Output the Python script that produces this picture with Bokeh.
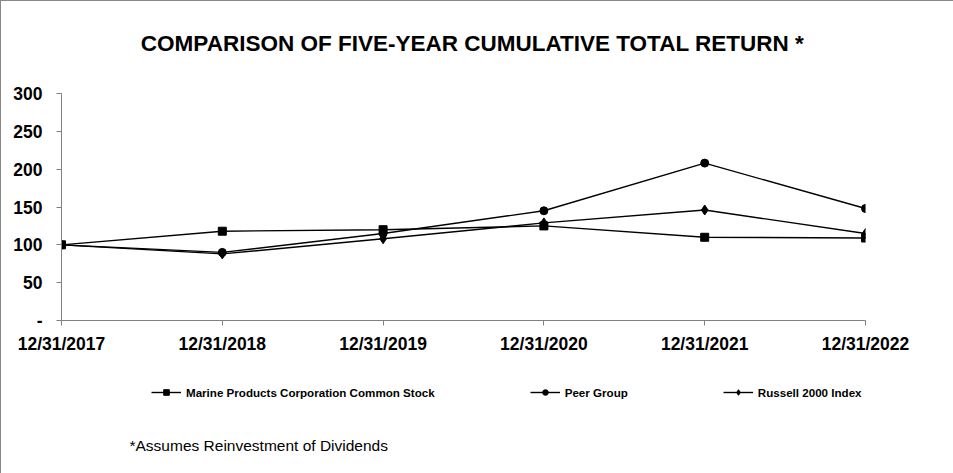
from bokeh.plotting import figure
from bokeh.models import Range1d, FixedTicker, Label, Legend, LegendItem
from bokeh.layouts import column
from bokeh.embed import file_html
from bokeh.resources import INLINE

dates = ["12/31/2017", "12/31/2018", "12/31/2019", "12/31/2020", "12/31/2021", "12/31/2022"]
marine = [100, 118, 120, 125, 110, 109]
peer = [100, 90, 115, 145, 208, 148]
russell = [100, 88, 108, 129, 146, 115]
y_ticks = [0, 50, 100, 150, 200, 250, 300]
y_tick_labels = ["-", "50", "100", "150", "200", "250", "300"]
series_names = ["Marine Products Corporation Common Stock", "Peer Group", "Russell 2000 Index"]
title_text = "COMPARISON OF FIVE-YEAR CUMULATIVE TOTAL RETURN *"
note_text = "*Assumes Reinvestment of Dividends"

FONT = "Liberation Sans"
W, H0, H1, H2 = 952, 70, 285, 117

def strip(h):
    f = figure(width=W, height=h, output_backend="svg", toolbar_location=None,
               x_range=Range1d(-2, -1), y_range=Range1d(-2, -1),
               x_axis_location=None, y_axis_location=None)
    f.min_border_top = 0
    f.min_border_bottom = 0
    f.min_border_left = 60
    f.min_border_right = W - 864
    f.outline_line_color = None
    f.grid.visible = False
    return f

# Title strip
p0 = strip(H0)
p0.add_layout(Label(x=411, y=28, x_units="screen", y_units="screen", text=title_text,
                    text_font=FONT, text_font_style="bold", text_font_size="22.5px",
                    text_align="center", text_baseline="middle", text_color="black"))

# Main chart
p1 = figure(width=W, height=H1, output_backend="svg", toolbar_location=None,
            x_range=Range1d(0, 5), y_range=Range1d(0, 300))
p1.min_border_left = 60
p1.min_border_right = W - 864
p1.min_border_top = 92 - H0
p1.min_border_bottom = H0 + H1 - 322
p1.outline_line_color = None
p1.grid.visible = False

xs = list(range(len(dates)))
p1.xaxis.ticker = FixedTicker(ticks=xs)
p1.xaxis.major_label_overrides = {i: d for i, d in enumerate(dates)}
p1.yaxis.ticker = FixedTicker(ticks=y_ticks)
p1.yaxis.major_label_overrides = {t: l for t, l in zip(y_ticks, y_tick_labels)}
for ax in (p1.xaxis, p1.yaxis):
    ax.axis_line_color = "#808080"
    ax.major_tick_line_color = "#808080"
    ax.minor_tick_line_color = None
    ax.major_tick_out = 5
    ax.major_tick_in = 0
    ax.major_label_text_font = FONT
    ax.major_label_text_font_style = "bold"
    ax.major_label_text_font_size = "17.5px"
    ax.major_label_text_color = "black"
p1.yaxis.major_label_standoff = 14
p1.xaxis.major_label_standoff = 8

markers = [("square", 8), ("circle", 8), ("diamond", 10)]
series = [marine, peer, russell]
for vals, (mk, sz) in zip(series, markers):
    p1.line(xs, vals, line_color="black", line_width=1.4)
    p1.scatter(xs, vals, marker=mk, size=sz, color="black")

# Bottom strip: legend and footnote
p2 = strip(H2)
items = []
for name, vals, (mk, sz) in zip(series_names, series, markers):
    # legend proxies: same series, outside this strip's visible range
    lr = p2.line(x=xs[:1], y=vals[:1], line_color="black", line_width=1.4)
    sr = p2.scatter(x=xs[:1], y=vals[:1], marker=mk, size=sz * 0.85, color="black")
    items.append(LegendItem(label=name, renderers=[lr, sr]))

legend = Legend(items=items, orientation="horizontal", location=(90, 74), spacing=95,
                glyph_width=30, glyph_height=14, label_standoff=5,
                label_text_font=FONT, label_text_font_style="bold",
                label_text_font_size="11.6px", label_text_color="black",
                background_fill_alpha=0, border_line_color=None, padding=4, margin=0)
p2.add_layout(legend, "center")

p2.add_layout(Label(x=68, y=28, x_units="screen", y_units="screen", text=note_text,
                    text_font=FONT, text_font_size="15.5px",
                    text_align="left", text_baseline="middle", text_color="black"))

layout = column(p0, p1, p2, spacing=0)
layout.styles = {"border-top": "1px solid #888888", "border-left": "1px solid #888888"}
p = layout

open("out.html", "w").write(file_html(p, INLINE))
